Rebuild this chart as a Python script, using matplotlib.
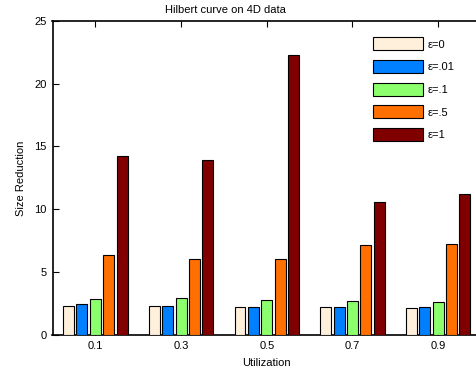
import matplotlib
matplotlib.use("Agg")
import matplotlib.pyplot as plt
import numpy as np

plt.rcParams['font.family'] = ['Liberation Sans', 'DejaVu Sans']

utilization = ["0.1", "0.3", "0.5", "0.7", "0.9"]
series_labels = ["ε=0", "ε=.01", "ε=.1", "ε=.5", "ε=1"]
eps_0 = [2.33, 2.33, 2.20, 2.26, 2.18]
eps_001 = [2.50, 2.33, 2.26, 2.26, 2.26]
eps_01 = [2.88, 2.96, 2.81, 2.73, 2.65]
eps_05 = [6.40, 6.05, 6.05, 7.15, 7.20]
eps_1 = [14.2, 13.9, 22.3, 10.6, 11.2]
series = [eps_0, eps_001, eps_01, eps_05, eps_1]
colors = ["#FFF0DC", "#0080FF", "#8CFF6C", "#FF7000", "#800000"]
y_ticks = [0, 5, 10, 15, 20, 25]

W, H = 476, 372
fig = plt.figure(figsize=(W / 100, H / 100), dpi=100)
left, right, top, bottom = 52.5, 481.0, 20.7, 335.0
ax = fig.add_axes([left / W, 1 - bottom / H, (right - left) / W, (bottom - top) / H])

x = np.arange(len(utilization))
pitch = 0.156
width = 0.128
for i, (vals, col, lab) in enumerate(zip(series, colors, series_labels)):
    ax.bar(x + (i - 2) * pitch, vals, width, color=col, edgecolor="black",
           linewidth=0.8, label=lab, zorder=3)

ax.set_xlim(-0.5, 4.5)
ax.set_ylim(0, 25)
ax.set_xticks(x)
ax.set_xticklabels(utilization)
ax.set_yticks(y_ticks)
ax.tick_params(direction="in", length=4, width=0.8, labelsize=8, top=True,
               right=False, pad=4)
for s in ax.spines.values():
    s.set_linewidth(1.2)

ax.set_xlabel("Utilization", fontsize=8, labelpad=5)
ax.set_ylabel("Size Reduction", fontsize=8, labelpad=6)
fig.text(225 / W, 1 - 10 / H, "Hilbert curve on 4D data", fontsize=8,
         ha="center", va="center")

fs = 8 * 100 / 72
ax.legend(loc="upper left", bbox_to_anchor=(372.7 / W, 1 - 37.3 / H),
          bbox_transform=fig.transFigure, frameon=False, fontsize=8,
          handlelength=50 / fs, handleheight=16 / fs, labelspacing=0.86,
          handletextpad=0.45, borderpad=0, borderaxespad=0)

fig.savefig("out.png", dpi=100)
